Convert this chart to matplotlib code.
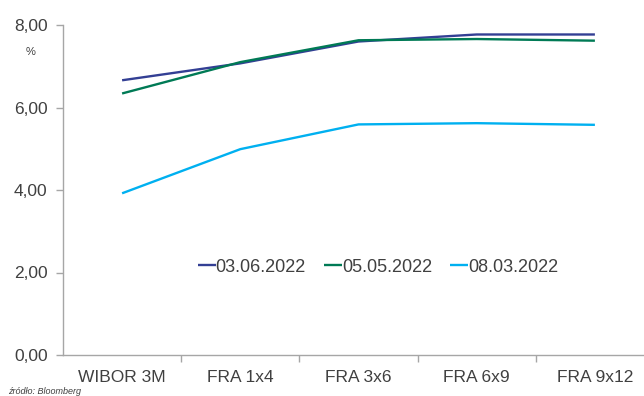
import numpy as np
import matplotlib
matplotlib.use("Agg")
import matplotlib.pyplot as plt
from matplotlib.ticker import FixedLocator, FuncFormatter

plt.rcParams['font.family'] = ['Liberation Sans', 'DejaVu Sans']

tenors = ["WIBOR 3M", "FRA 1x4", "FRA 3x6", "FRA 6x9", "FRA 9x12"]
dates = ["03.06.2022", "05.05.2022", "08.03.2022"]
rates_0306 = [6.66, 7.07, 7.60, 7.77, 7.77]
rates_0505 = [6.34, 7.10, 7.63, 7.66, 7.62]
rates_0803 = [3.92, 4.99, 5.59, 5.62, 5.58]
colors = ["#333f94", "#007a55", "#00b0f0"]

W, H = 644, 396
fig = plt.figure(figsize=(W / 100, H / 100), dpi=100)
# axes box in pixels: left 63, right 654 (runs off the canvas), top 25, bottom 355
ax = fig.add_axes([63 / W, (H - 355) / H, (654 - 63) / W, (355 - 25) / H])

x = np.arange(len(tenors))
for vals, lab, c in zip([rates_0306, rates_0505, rates_0803], dates, colors):
    ax.plot(x, vals, color=c, lw=1.7, label=lab, solid_capstyle='butt')

ax.set_xlim(-0.5, len(tenors) - 0.5)
ax.set_ylim(0, 8)

grey = "#a6a6a6"
for s in ["top", "right"]:
    ax.spines[s].set_visible(False)
for s in ["left", "bottom"]:
    ax.spines[s].set_color(grey)
    ax.spines[s].set_linewidth(1.0)

ax.set_yticks([0, 2, 4, 6, 8])
ax.yaxis.set_major_formatter(FuncFormatter(lambda v, p: f"{v:.2f}".replace(".", ",")))
ax.tick_params(axis='y', direction='out', length=5, width=1, color=grey,
               labelsize=12.5, labelcolor="#404040", pad=6)

ax.set_xticks(x)
ax.set_xticklabels(tenors)
ax.xaxis.set_minor_locator(FixedLocator(np.arange(0.5, len(tenors) - 0.5, 1)))
ax.tick_params(axis='x', which='major', length=0, labelsize=12.5,
               labelcolor="#404040", pad=11)
ax.tick_params(axis='x', which='minor', direction='out', length=5, width=1, color=grey)

leg = ax.legend(loc='center', bbox_to_anchor=((378 - 63) / (654 - 63), (355 - 267) / 330),
                ncol=3, frameon=False, fontsize=13, handlelength=1.0,
                handletextpad=0.0, columnspacing=1.0, labelcolor="#404040")

fig.text(31 / W, 1 - 52 / H, "%", fontsize=8, color="#404040", ha='center', va='center')
fig.text(8 / W, 1 - 391 / H, "źródło: Bloomberg", fontsize=6.5, style='italic',
         color="#404040", ha='left', va='center')

fig.savefig("out.png", dpi=100)
